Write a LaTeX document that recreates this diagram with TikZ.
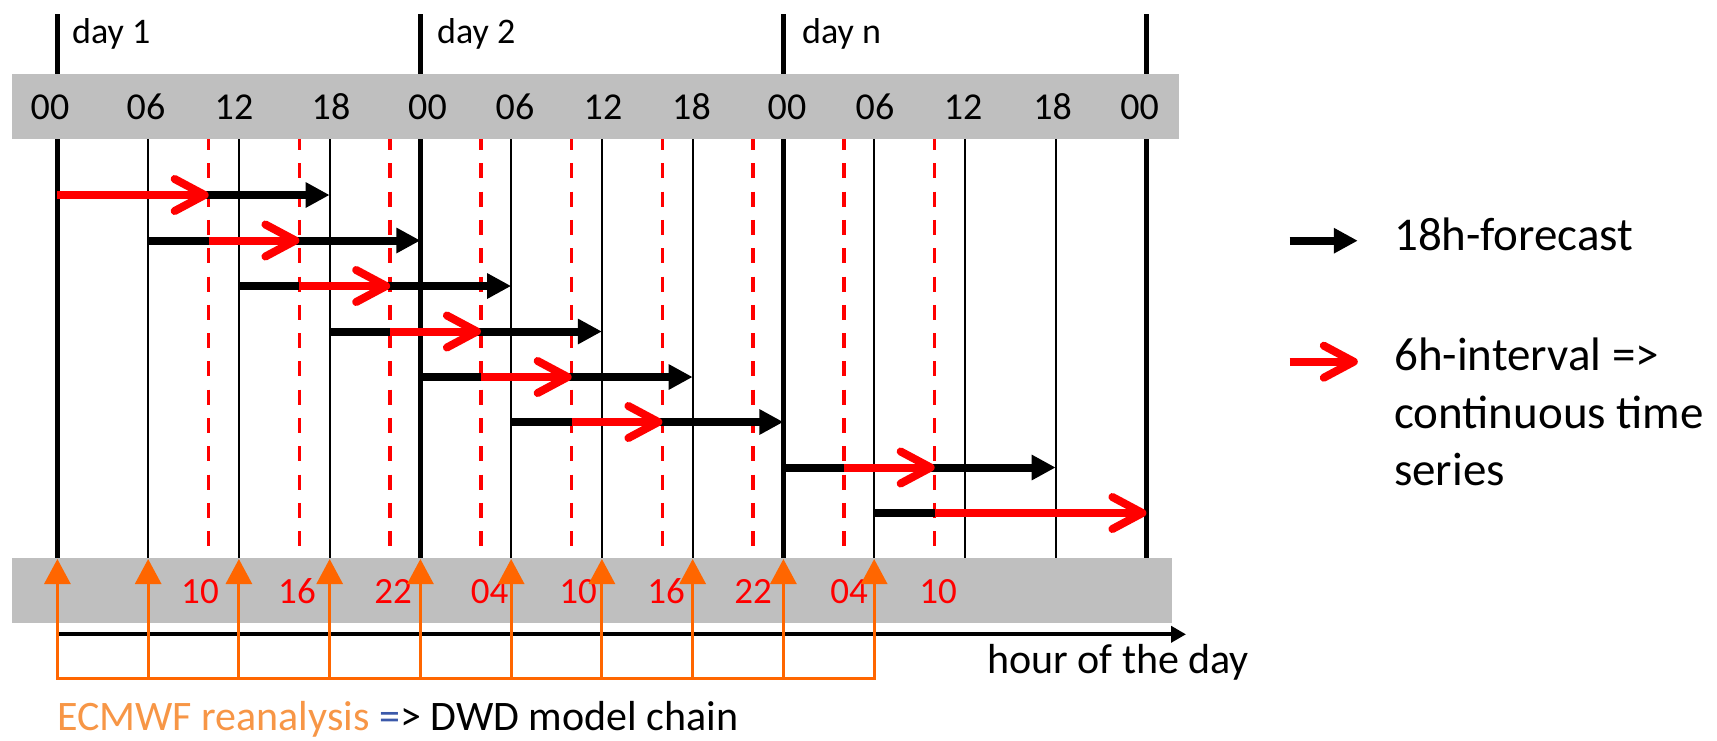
\documentclass[tikz,border=0pt]{standalone}
\usepackage{fontspec}
\setmainfont{Carlito}
\usetikzlibrary{arrows.meta}
\definecolor{bandgray}{RGB}{191,191,191}
\definecolor{arrorange}{RGB}{255,102,0}
\definecolor{txtorange}{RGB}{247,150,70}
\definecolor{eqblue}{RGB}{59,89,170}
\begin{document}
\begin{tikzpicture}[x=1pt,y=-1pt,
  dayline/.style={line width=4.6pt},
  hourline/.style={line width=2.3pt},
  redline/.style={red, line width=3.6pt, dash pattern=on 15pt off 13.3pt},
  fc/.style={line width=8pt, -{Triangle[length=24pt,width=24pt]}},
  fcplain/.style={line width=8pt},
  iv/.style={red, line width=8pt, -{Straight Barb[length=30pt,width=32pt,round]}},
  band/.style={fill=bandgray, draw=none},
  ecm/.style={arrorange, line width=3pt, -{Triangle[length=25pt,width=26pt]}},
  ecmline/.style={arrorange, line width=3pt, line cap=rect},
  axisarrow/.style={line width=4pt, -{Triangle[length=15pt,width=16pt]}},
  hourlab/.style={font=\fontsize{38}{46}\selectfont, anchor=base, inner sep=0pt},
  redlab/.style={font=\fontsize{37}{44}\selectfont, text=red, anchor=base, inner sep=0pt},
  daylab/.style={font=\fontsize{36}{43}\selectfont, anchor=base west, inner sep=0pt},
  legtext/.style={font=\fontsize{47}{56}\selectfont, anchor=base west, inner sep=0pt},
  bigtext/.style={font=\fontsize{42}{50}\selectfont, anchor=base west, inner sep=0pt}
]
\useasboundingbox (0,0) rectangle (1717,740);
% hour coordinates
\foreach \n in {0,...,72} \coordinate (h\n) at ({57.4+15.125*\n},0);
\coordinate (top) at (0,14);
\coordinate (bandlow) at (0,138.7);
\coordinate (dashtop) at (0,135);
\coordinate (bot) at (0,558);
\coordinate (bt) at (0,559);
\coordinate (ob) at (0,678);
\coordinate (ax) at (0,634.3);
\coordinate (axend) at (1186,634.3);
\coordinate (r1) at (0,195);
\coordinate (r2) at (0,240.5);
\coordinate (r3) at (0,286);
\coordinate (r4) at (0,331.5);
\coordinate (r5) at (0,377);
\coordinate (r6) at (0,422);
\coordinate (r7) at (0,467.5);
\coordinate (r8) at (0,513);

% vertical lines
\foreach \h in {0,24,48,72} \draw[dayline] (h\h|-top) -- (h\h|-bot);
\foreach \h in {6,12,18,30,36,42,54,60,66} \draw[hourline] (h\h|-bandlow) -- (h\h|-bot);
\foreach \h in {10,16,22,28,34,40,46,52,58} \draw[redline] (h\h|-dashtop) -- (h\h|-bot);

% forecast arrows
\draw[fc] (h0|-r1) -- (h18|-r1);
\draw[fc] (h6|-r2) -- (h24|-r2);
\draw[fc] (h12|-r3) -- (h30|-r3);
\draw[fc] (h18|-r4) -- (h36|-r4);
\draw[fc] (h24|-r5) -- (h42|-r5);
\draw[fc] (h30|-r6) -- (h48|-r6);
\draw[fc] (h48|-r7) -- (h66|-r7);
\draw[fcplain] (h54|-r8) -- (h58|-r8);

% interval arrows
\draw[iv] (h0|-r1) -- (h10|-r1);
\draw[iv] (h10|-r2) -- (h16|-r2);
\draw[iv] (h16|-r3) -- (h22|-r3);
\draw[iv] (h22|-r4) -- (h28|-r4);
\draw[iv] (h28|-r5) -- (h34|-r5);
\draw[iv] (h34|-r6) -- (h40|-r6);
\draw[iv] (h52|-r7) -- (h58|-r7);
\draw[iv] (h58|-r8) -- (h72|-r8);

% bands
\fill[band] (11.9,74) rectangle (1179,138.7);
\fill[band] (11.9,557.7) rectangle (1171.7,622.7);

% day labels
\node[daylab] (d1) at (72,43) {day 1};
\node[daylab] (d2) at (437,43) {day 2};
\node[daylab] (dn) at (802,43) {day n};

% hour labels
\foreach \x/\t [count=\i] in {50/00,146/06,234/12,331/18,427.5/00,515/06,603/12,691.5/18,787/00,875/06,963/12,1052.5/18,1139.5/00}
  \node[hourlab] (tl\i) at (\x,119) {\t};

% red labels
\foreach \x/\t [count=\i] in {200/10,297/16,393/22,489.5/04,578/10,666/16,753/22,849/04,938/10}
  \node[redlab] (rl\i) at (\x,603.3) {\t};

% axis
\draw[axisarrow] (h0|-ax) -- (axend);
\node[bigtext] (hod) at (987,673) {hour of the day};

% ECMWF arrows
\draw[ecmline] (h0|-ob) -- (h54|-ob);
\foreach \h in {0,6,...,54} \draw[ecm] (h\h|-ob) -- (h\h|-bt);
\node[bigtext] (src) at (57,730) {\textcolor{txtorange}{ECMWF reanalysis} \textcolor{eqblue}{=}> DWD model chain};

% legend
\coordinate (l1s) at (1289.7,240.7);
\coordinate (l1e) at (1357.8,240.7);
\coordinate (l2s) at (1289.7,361.7);
\coordinate (l2e) at (1357.8,361.7);
\draw[fc] (l1s) -- (l1e);
\draw[iv] (l2s) -- (l2e);
\node[legtext] (lt1) at (1394,250) {18h-forecast};
\node[legtext] (lt2) at (1394,370.7) {6h-interval =>};
\node[legtext] (lt3) at (1394,428) {continuous time};
\node[legtext] (lt4) at (1394,485) {series};
\end{tikzpicture}
\end{document}
